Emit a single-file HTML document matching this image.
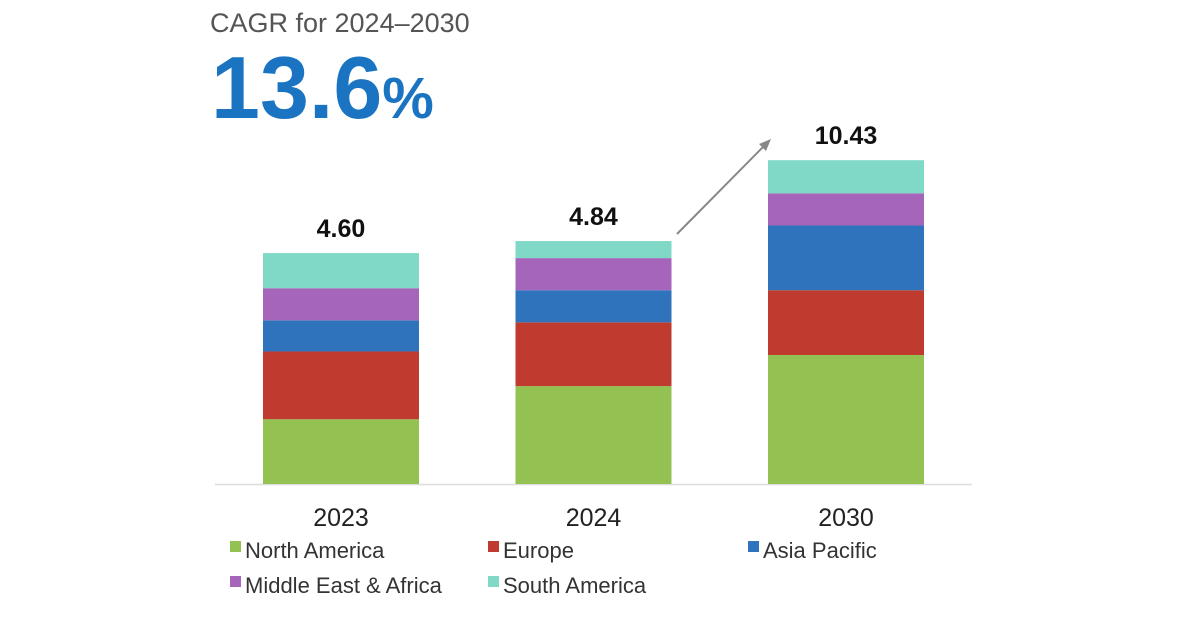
<!DOCTYPE html>
<html><head><meta charset="utf-8"><style>
body{margin:0;background:#fff;font-family:"Liberation Sans",sans-serif}
</style></head><body>
<svg width="1200" height="628" viewBox="0 0 1200 628" xmlns="http://www.w3.org/2000/svg">
<text x="210" y="32" font-size="27" fill="#555">CAGR for 2024–2030</text>
<text x="211" y="118" font-size="88" font-weight="bold" fill="#1b74c2">13.6<tspan font-size="58">%</tspan></text>
<line x1="215" y1="484.5" x2="972" y2="484.5" stroke="#ddd" stroke-width="1.5"/>
<g id="bars"></g>
<line x1="677" y1="234" x2="764" y2="146" stroke="#888" stroke-width="2"/>
<polygon points="771,139 759,144 766,151" fill="#888"/>
<g id="legend" font-size="22" fill="#333"></g>
</svg>
<script>
const categories=["2023","2024","2030"];
const totals=["4.60","4.84","10.43"];
const seriesNames=["North America","Europe","Asia Pacific","Middle East & Africa","South America"];
const northAmerica=[1.29,1.95,2.57];
const europe=[1.35,1.27,1.29];
const asiaPacific=[0.62,0.64,1.29];
const middleEastAfrica=[0.64,0.64,0.64];
const southAmerica=[0.70,0.34,0.66];
const series=[northAmerica,europe,asiaPacific,middleEastAfrica,southAmerica];
const colors=["#93c152","#bf3b2f","#2f73bc","#a565ba","#80d8c6"];
const NS="http://www.w3.org/2000/svg";
const base=484, pxPerUnit=50.2, x0=263, step=252.5, bw=156;
const y=v=>base-v*pxPerUnit;
const g=document.getElementById('bars');
function mk(t,a){const e=document.createElementNS(NS,t);for(const k in a)e.setAttribute(k,a[k]);return e;}
categories.forEach((c,i)=>{
  let cum=0;const x=x0+i*step;
  series.forEach((s,j)=>{
    const r=mk('rect',{x:x,y:y(cum+s[i]),width:bw,height:s[i]*pxPerUnit,fill:colors[j]});
    
    
    g.appendChild(r);cum+=s[i];
  });
  const t=mk('text',{x:x+bw/2,y:y(cum)-16,'text-anchor':'middle','font-size':'25','font-weight':'bold',fill:'#111'});
  t.textContent=totals[i];
  
  
  g.appendChild(t);
  const l=mk('text',{x:x+bw/2,y:526,'text-anchor':'middle','font-size':'25',fill:'#222'});
  l.textContent=c;
  
  
  g.appendChild(l);
});
const lg=document.getElementById('legend');
const lpos=[[230,551],[488,551],[748,551],[230,586],[488,586]];
seriesNames.forEach((n,j)=>{
  const [lx,ly]=lpos[j];
  const r=mk('rect',{x:lx,y:ly-10,width:11,height:11,fill:colors[j]});
  
  
  lg.appendChild(r);
  const t=mk('text',{x:lx+15,y:ly+7});
  t.textContent=n;
  
  
  lg.appendChild(t);
});
</script>
</body></html>
